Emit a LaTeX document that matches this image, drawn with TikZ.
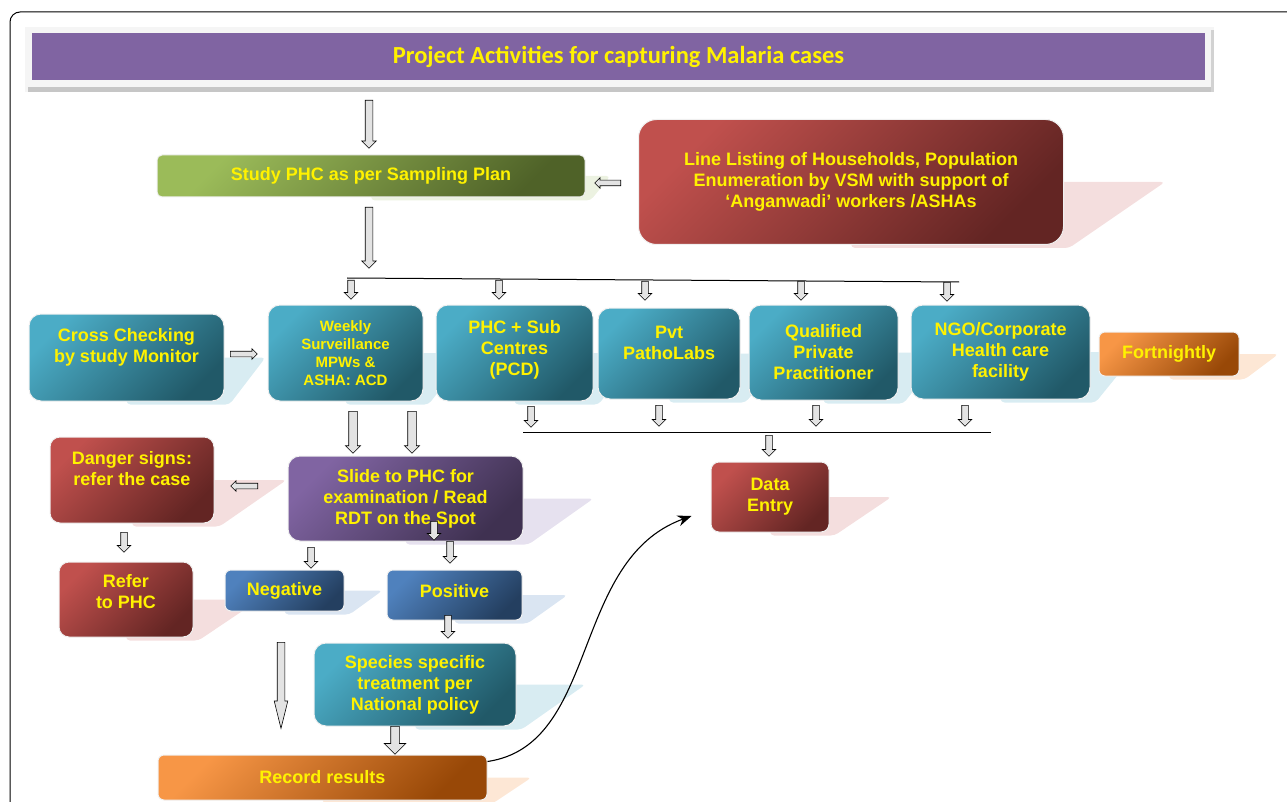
\documentclass[tikz,border=0pt]{standalone}
\usepackage{fontspec}
\setmainfont{Liberation Sans}
\newfontfamily\titlefont{Carlito}
\usetikzlibrary{shapes.arrows,arrows.meta}
\pgfdeclarelayer{background}
\pgfsetlayers{background,main}

\definecolor{tealA}{RGB}{75,172,198}
\definecolor{tealB}{RGB}{33,89,104}
\definecolor{redA}{RGB}{192,80,77}
\definecolor{redB}{RGB}{99,37,35}
\definecolor{purA}{RGB}{128,100,162}
\definecolor{purB}{RGB}{63,49,81}
\definecolor{bluA}{RGB}{79,129,189}
\definecolor{bluB}{RGB}{36,63,96}
\definecolor{oraA}{RGB}{247,150,70}
\definecolor{oraB}{RGB}{152,72,7}
\definecolor{grnA}{RGB}{155,187,89}
\definecolor{grnB}{RGB}{79,98,40}
\definecolor{tealS}{RGB}{216,236,242}
\definecolor{redS}{RGB}{244,222,222}
\definecolor{purS}{RGB}{230,225,239}
\definecolor{bluS}{RGB}{218,229,242}
\definecolor{oraS}{RGB}{253,231,213}
\definecolor{grnS}{RGB}{236,242,225}

\tikzset{
  box/.style={rounded corners=8, draw=gray!12, line width=1pt, text=yellow,
    align=center, inner sep=2pt, font=\bfseries\fontsize{18}{21}\selectfont},
  shade2/.style 2 args={top color=#1, bottom color=#2, shading angle=45},
  tealbox/.style={box, shade2={tealA}{tealB}, rounded corners=12},
  redbox/.style={box, shade2={redA}{redB}},
  purbox/.style={box, shade2={purA}{purB}},
  blubox/.style={box, shade2={bluA}{bluB}, rounded corners=6},
  orabox/.style={box, shade2={oraA}{oraB}, rounded corners=6},
  grnbox/.style={box, shade2={grnA}{grnB}, rounded corners=5},
  lifted/.style={text depth=#1},
  barrow/.style={single arrow, draw=black, fill=gray!22, line width=0.6pt,
    inner sep=3pt, single arrow head extend=3.5pt, single arrow tip angle=90,
    minimum height=#1, anchor=tail},
  slimarrow/.style={inner sep=2.5pt, single arrow head extend=2.5pt},
  widearrow/.style={inner sep=4pt, single arrow head extend=6.5pt},
  pointdown/.style={rotate=-90},
  pointleft/.style={rotate=180}
}

% soft reflection to the right of a box
\newcommand\boxshade[3]{%
  \fill[#3, rounded corners=4] (#1.center) -- ([xshift=#2]#1.east)
    -- ([xshift=5,yshift=-3]#1.south east) -- ([yshift=-3]#1.south) -- cycle;}

\begin{document}
\begin{tikzpicture}[x=1pt,y=-1pt]
  \useasboundingbox (0,0) rectangle (1287,802);
  \clip (0,0) rectangle (1287,802);
  \draw[line width=1pt, rounded corners=10] (10,830) -- (10,12) -- (1300,12);

  % title
  \fill[gray!8] (25,27) rectangle (1214,92);
  \fill[gray!45] (28,87) rectangle (1214,92);
  \fill[gray!35] (1211,30) rectangle (1214,92);
  \node[fill=purA, minimum width=1173, minimum height=47, text=yellow,
    font=\titlefont\bfseries\fontsize{24.5}{28}\selectfont] (title) at (618.5,56.5)
    {Project Activities for capturing Malaria cases};

  \node[grnbox, minimum width=428, minimum height=42] (study) at (371,176) {Study PHC as per Sampling Plan};
  \node[redbox, rounded corners=18, minimum width=425, minimum height=125] (listing) at (851,182)
    {Line Listing of Households, Population\\Enumeration by VSM with support of\\‘Anganwadi’ workers /ASHAs};

  \node[tealbox, lifted=24pt, minimum width=195, minimum height=87] (cross) at (126.5,357.5) {Cross Checking\\by study Monitor};
  \node[tealbox, minimum width=155, minimum height=96, font=\bfseries\fontsize{15}{18}\selectfont] (weekly) at (345.5,353)
    {Weekly\\Surveillance\\MPWs \&\\ASHA: ACD};
  \node[tealbox, lifted=10pt, minimum width=157, minimum height=96] (phcsub) at (514.5,353) {PHC + Sub\\Centres\\(PCD)};
  \node[tealbox, lifted=22pt, minimum width=142, minimum height=91] (pvt) at (669,353.5) {Pvt\\PathoLabs};
  \node[tealbox, minimum width=149, minimum height=95] (qpp) at (823.5,352.5) {Qualified\\Private\\Practitioner};
  \node[tealbox, minimum width=179, minimum height=94] (ngo) at (1000.5,352) {NGO/Corporate\\Health care\\facility};
  \node[orabox, minimum width=140, minimum height=44] (fort) at (1169,354) {Fortnightly};

  \node[redbox, minimum width=118, minimum height=70] (data) at (770,497) {Data\\Entry};
  \node[purbox, rounded corners=12, minimum width=235, minimum height=85] (slide) at (405.5,498.5)
    {Slide to PHC for\\examination / Read\\RDT on the Spot};
  \node[redbox, lifted=24pt, rounded corners=10, minimum width=164, minimum height=86] (danger) at (132,480) {Danger signs:\\refer the case};
  \node[redbox, lifted=17pt, rounded corners=10, minimum width=134, minimum height=75] (refer) at (126,599.5) {Refer\\to PHC};
  \node[blubox, minimum width=119, minimum height=41] (neg) at (284.5,590.5) {Negative};
  \node[blubox, lifted=9pt, minimum width=135, minimum height=50] (pos) at (454.5,595) {Positive};
  \node[tealbox, minimum width=202, minimum height=83] (species) at (415,684.5) {Species specific\\treatment per\\National policy};
  \node[orabox, minimum width=329, minimum height=45] (rec) at (322.5,777.5) {Record results};

  \begin{pgfonlayer}{background}
    \boxshade{study}{25}{grnS}
    \boxshade{listing}{101}{redS}
    \boxshade{cross}{41}{tealS}
    \boxshade{weekly}{45}{tealS}
    \boxshade{phcsub}{45}{tealS}
    \boxshade{pvt}{45}{tealS}
    \boxshade{qpp}{45}{tealS}
    \boxshade{ngo}{46}{tealS}
    \boxshade{fort}{39}{oraS}
    \boxshade{data}{62}{redS}
    \boxshade{slide}{70}{purS}
    \boxshade{danger}{72}{redS}
    \boxshade{refer}{66}{redS}
    \boxshade{neg}{38}{bluS}
    \boxshade{pos}{45}{bluS}
    \boxshade{species}{69}{tealS}
    \boxshade{rec}{44}{oraS}
  \end{pgfonlayer}

  % bus lines
  \coordinate (topL) at (347,278);
  \coordinate (topR) at (959,282);
  \coordinate (midL) at (523,432);
  \coordinate (midR) at (991,432);
  \draw[line width=1pt] (topL) -- (topR);
  \draw[line width=1pt] (midL) -- (midR);

  % block arrows
  \node[barrow=48, pointdown, inner sep=3.5pt] (a1) at (369,100) {};
  \node[barrow=61, pointdown, inner sep=3.5pt] (a2) at (369,207) {};
  \node[barrow=26, slimarrow, pointleft] (a3) at (621,183) {};
  \node[barrow=19, pointdown] (d1) at (351,280) {};
  \node[barrow=19, pointdown] (d2) at (499,280) {};
  \node[barrow=19, pointdown] (d3) at (645,281) {};
  \node[barrow=19, pointdown] (d4) at (801,281) {};
  \node[barrow=19, pointdown] (d5) at (947,282) {};
  \node[barrow=27, slimarrow] (a4) at (230,354) {};
  \node[barrow=42, pointdown, inner sep=4pt, single arrow head extend=3.3pt] (a5) at (353,411) {};
  \node[barrow=42, pointdown, inner sep=4pt, single arrow head extend=3.3pt] (a6) at (412,411) {};
  \node[barrow=21, pointdown] (u1) at (531,406) {};
  \node[barrow=21, pointdown] (u2) at (659,405) {};
  \node[barrow=21, pointdown] (u3) at (816,405) {};
  \node[barrow=21, pointdown] (u4) at (965,405) {};
  \node[barrow=21, pointdown] (a7) at (769,435) {};
  \node[barrow=27, slimarrow, pointleft] (a8) at (258,486) {};
  \node[barrow=20, pointdown] (a9) at (124,532) {};
  \node[barrow=21, pointdown] (a10) at (311,547) {};
  \node[barrow=19, pointdown] (a11) at (434,521) {};
  \node[barrow=22, pointdown] (a12) at (450,541) {};
  \node[barrow=23, pointdown] (a13) at (448,615) {};
  \node[barrow=86, pointdown, inner sep=3.5pt, single arrow head extend=3pt,
    single arrow tip angle=28] (a14) at (281,642) {};
  \node[barrow=28, widearrow, pointdown] (a15) at (395,726) {};

  \draw[line width=1.1pt, -{Stealth[length=14pt,width=11pt]}] ([yshift=-7]rec.north east)
    .. controls (600,745) and (570,560) .. ([xshift=-19,yshift=-19]data.west);
\end{tikzpicture}
\end{document}
